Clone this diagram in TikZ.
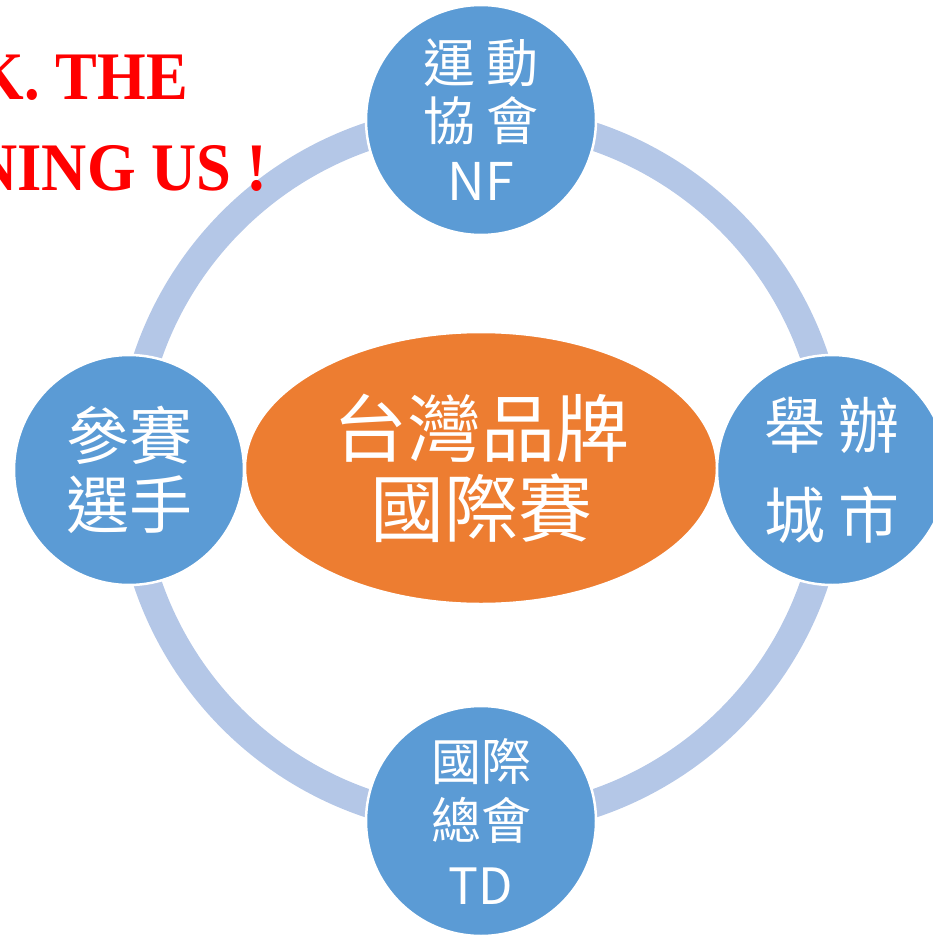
\documentclass[tikz,border=0pt]{standalone}
\usepackage{fontspec}
\setmainfont{Liberation Serif}
\newfontfamily\cjk{Noto Sans CJK TC}
\usetikzlibrary{shapes.geometric}
\definecolor{ringblue}{RGB}{180,199,231}
\definecolor{nodeblue}{RGB}{91,155,213}
\definecolor{huborange}{RGB}{237,125,49}
\tikzset{%
         ring/.style = { circle, draw=ringblue, line width=28pt, minimum size=704pt, inner sep=0pt },
       member/.style = { circle, fill=nodeblue, draw=white, line width=2.5pt, minimum size=230pt,
                         inner sep=0pt, text=white, align=center },
          hub/.style = { ellipse, fill=huborange, draw=white, line width=2.5pt, minimum width=472pt,
                         minimum height=272pt, inner sep=0pt, text=white, align=center },
       banner/.style = { text=red, font=\bfseries\fontsize{68}{68}\selectfont, xscale=.92,
                         anchor=base east, inner sep=0pt }
}

\begin{document}
\begin{tikzpicture}[x=1pt, y=-1pt]

  \clip (0,0) rectangle (933,936);

  \node[ring] (cycle) at (481,470) {};

  \node[banner] (thanks) at (188,100) {K. THE};
  \node[banner] (joining) at (268,190) {NING US !};

  \node[hub, font=\cjk\fontsize{74}{80}\selectfont] (contest) at (481,468) {台灣品牌\\國際賽};
  \node[member, font=\cjk\fontsize{52}{58}\selectfont] (nf) at (481,120) {運 動\\協 會\\[2pt]NF};
  \node[member, font=\cjk\fontsize{61}{90}\selectfont] (city) at (832,470) {舉 辦\\城 市};
  \node[member, font=\cjk\fontsize{63}{69}\selectfont] (players) at (129,470) {參賽\\選手};
  \node[member, font=\cjk\fontsize{50}{59}\selectfont] (td) at (481,821) {國際\\總會\\[6pt]TD};

\end{tikzpicture}
\end{document}
